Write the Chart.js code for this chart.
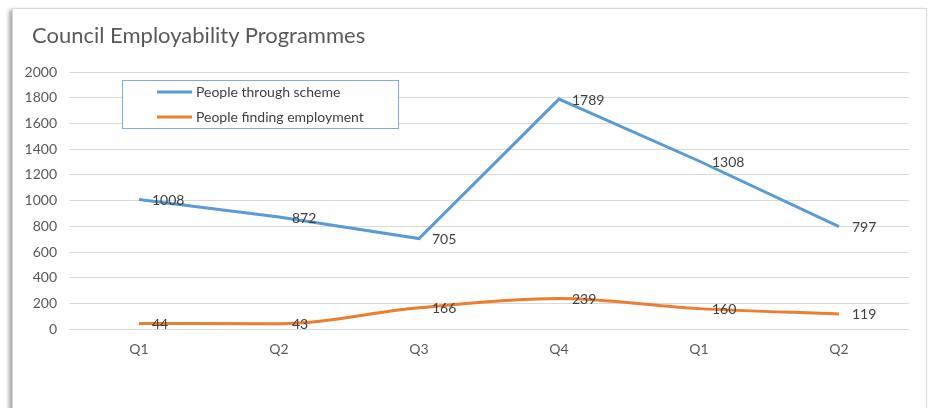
<!DOCTYPE html>
<html>
<head>
<meta charset="utf-8">
<script src="https://cdn.jsdelivr.net/npm/chart.js@4.4.1/dist/chart.umd.min.js"></script>
<style>
  html, body { margin: 0; padding: 0; background: #fff; }
  #wrap { position: relative; width: 931px; height: 408px; overflow: hidden; }
  #card {
    position: absolute; left: 12px; top: 8px; width: 913px; height: 420px;
    background: #fff; border: 1px solid #d9d9d9;
    box-shadow: -3px 2px 4px rgba(0,0,0,0.35);
  }
  #title {
    position: absolute; left: 32px; top: 21px; line-height: 26px;
    font: 22px Lato, sans-serif; color: #595959; white-space: nowrap;
  }
  canvas { position: absolute; left: 0; top: 0; }
</style>
</head>
<body>
<div id="wrap">
  <div id="card"></div>
  <canvas id="chart" width="931" height="408"></canvas>
  <div id="title">Council Employability Programmes</div>
</div>
<script>
const quarters = ['Q1', 'Q2', 'Q3', 'Q4', 'Q1', 'Q2'];
const throughScheme = [1008, 872, 705, 1789, 1308, 797];
const findingWork = [44, 43, 166, 239, 160, 119];
const yTicks = [0, 200, 400, 600, 800, 1000, 1200, 1400, 1600, 1800, 2000];

const textCol = '#595959';
const labelCol = '#404040';

// value labels to the right of each point, like Excel's "Right" position
const valueLabels = {
    id: 'valueLabels',
    afterDatasetsDraw(chart) {
        const ctx = chart.ctx;
        ctx.save();
        ctx.font = '14px Lato, sans-serif';
        ctx.fillStyle = labelCol;
        ctx.textAlign = 'left';
        ctx.textBaseline = 'middle';
        chart.data.datasets.forEach((ds, i) => {
            chart.getDatasetMeta(i).data.forEach((pt, j) => {
                ctx.fillText(String(ds.data[j]), pt.x + 13, pt.y + 1);
            });
        });
        ctx.restore();
    }
};

// boxed legend sitting inside the plot area
const boxLegend = {
    id: 'boxLegend',
    afterDraw(chart) {
        const ctx = chart.ctx;
        const a = chart.chartArea;
        const x = a.left + 53, y = a.top + 8, w = 276, h = 48;
        ctx.save();
        ctx.fillStyle = '#fff';
        ctx.fillRect(x, y, w, h);
        ctx.strokeStyle = '#7fadde';
        ctx.lineWidth = 1;
        ctx.strokeRect(x + 0.5, y + 0.5, w, h);
        ctx.font = '14px Lato, sans-serif';
        ctx.textBaseline = 'middle';
        chart.data.datasets.forEach((ds, i) => {
            const ly = y + 12 + i * 25;
            ctx.strokeStyle = ds.borderColor;
            ctx.lineWidth = 3;
            ctx.beginPath();
            ctx.moveTo(x + 35, ly);
            ctx.lineTo(x + 70, ly);
            ctx.stroke();
            ctx.fillStyle = labelCol;
            ctx.fillText(ds.label, x + 74, ly);
        });
        ctx.restore();
    }
};

new Chart(document.getElementById('chart').getContext('2d'), {
    type: 'line',
    data: {
        labels: quarters,
        datasets: [
            {
                label: 'People through scheme',
                data: throughScheme,
                borderColor: '#5b9bd5',
                borderWidth: 3,
                pointRadius: 0,
                tension: 0
            },
            {
                label: 'People finding employment',
                data: findingWork,
                borderColor: '#ed7d31',
                borderWidth: 3,
                pointRadius: 0,
                cubicInterpolationMode: 'monotone'
            }
        ]
    },
    options: {
        responsive: false,
        animation: false,
        layout: { padding: { left: 16, right: 22, top: 72, bottom: 38 } },
        plugins: {
            legend: { display: false },
            tooltip: { enabled: false },
            title: { display: false }
        },
        scales: {
            x: {
                offset: true,
                grid: { display: false, drawTicks: false },
                border: { display: false },
                ticks: { color: textCol, font: { family: 'Lato, sans-serif', size: 14 }, padding: 12 }
            },
            y: {
                min: 0, max: 2000,
                afterBuildTicks: s => { s.ticks = yTicks.map(v => ({ value: v })); },
                afterFit: s => { s.width = 53; },
                grid: { color: '#d9d9d9', drawTicks: false },
                border: { display: false },
                ticks: {
                    color: textCol,
                    font: { family: 'Lato, sans-serif', size: 14 },
                    padding: 12,
                    callback: v => String(v)
                }
            }
        }
    },
    plugins: [valueLabels, boxLegend]
});
</script>
</body>
</html>
